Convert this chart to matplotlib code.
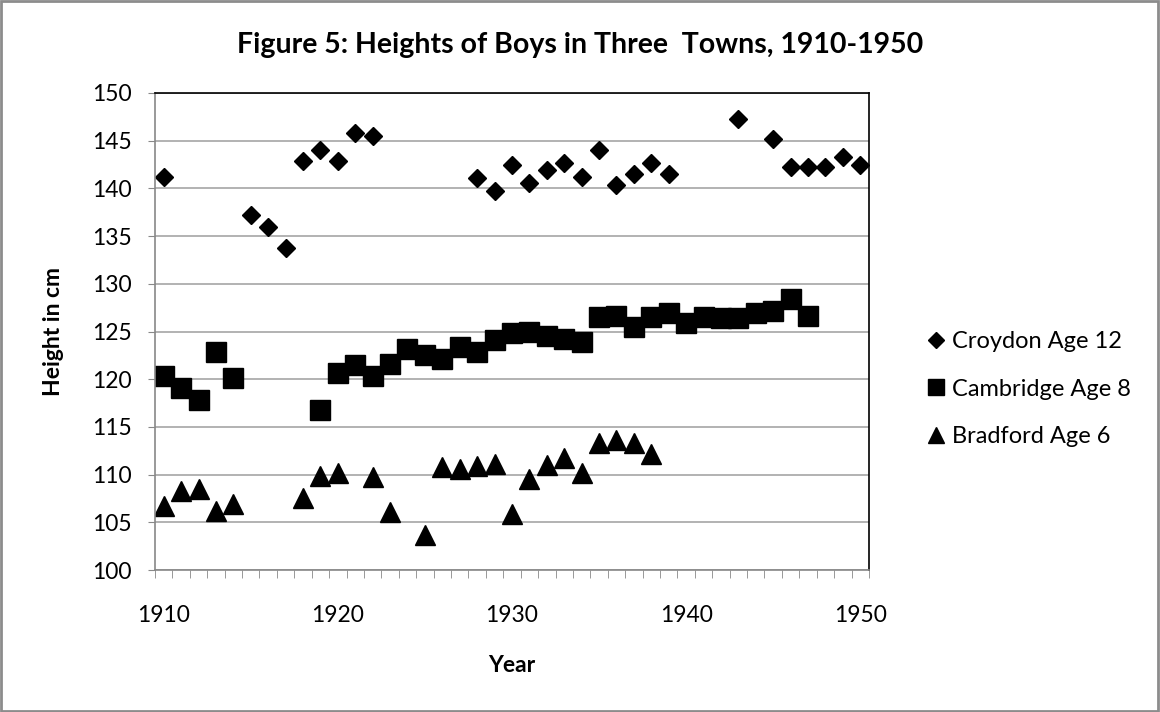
import matplotlib
matplotlib.use("Agg")
import matplotlib.pyplot as plt
from matplotlib.patches import Rectangle
from matplotlib.ticker import MultipleLocator, FixedLocator

plt.rcParams['font.family'] = ['Lato', 'DejaVu Sans']

# Croydon, age 12
croydon_years = [1910, 1915, 1916, 1917, 1918, 1919, 1920, 1921, 1922,
                 1928, 1929, 1930, 1931, 1932, 1933, 1934, 1935, 1936, 1937, 1938, 1939,
                 1943, 1945, 1946, 1947, 1948, 1949, 1950]
croydon_height = [141.2, 137.2, 136.0, 133.8, 142.9, 144.0, 142.9, 145.8, 145.5,
                  141.1, 139.7, 142.5, 140.6, 141.9, 142.7, 141.2, 144.0, 140.4, 141.5, 142.7, 141.5,
                  147.3, 145.2, 142.2, 142.2, 142.2, 143.3, 142.5]

# Cambridge, age 8
cambridge_years = [1910, 1911, 1912, 1913, 1914,
                   1919, 1920, 1921, 1922, 1923, 1924, 1925, 1926, 1927, 1928, 1929,
                   1930, 1931, 1932, 1933, 1934, 1935, 1936, 1937, 1938, 1939,
                   1940, 1941, 1942, 1943, 1944, 1945, 1946, 1947]
cambridge_height = [120.3, 119.1, 117.8, 122.9, 120.1,
                    116.8, 120.6, 121.5, 120.3, 121.6, 123.2, 122.5, 122.1, 123.4, 122.9, 124.1,
                    124.8, 124.9, 124.5, 124.2, 123.9, 126.5, 126.6, 125.5, 126.5, 126.9,
                    125.9, 126.5, 126.4, 126.4, 126.9, 127.1, 128.4, 126.6]

# Bradford, age 6
bradford_years = [1910, 1911, 1912, 1913, 1914, 1918, 1919, 1920, 1922, 1923,
                  1925, 1926, 1927, 1928, 1929, 1930, 1931, 1932, 1933, 1934,
                  1935, 1936, 1937, 1938]
bradford_height = [106.7, 108.3, 108.5, 106.2, 106.9, 107.5, 109.9, 110.2, 109.8, 106.1,
                   103.7, 110.8, 110.6, 110.9, 111.1, 105.9, 109.5, 111.0, 111.7, 110.2,
                   113.3, 113.6, 113.3, 112.2]

fig = plt.figure(figsize=(11.6, 7.12), dpi=100)
ax = fig.add_axes([0.1336, 0.1994, 0.6155, 0.67])

ax.plot(croydon_years, croydon_height, linestyle='none', marker='D',
        markersize=9.2, color='black', label='Croydon Age 12')
ax.plot(cambridge_years, cambridge_height, linestyle='none', marker='s',
        markersize=14.2, color='black', label='Cambridge Age 8')
ax.plot(bradford_years, bradford_height, linestyle='none', marker='^',
        markersize=14, color='black', label='Bradford Age 6')

ax.set_xlim(1909.5, 1950.5)
ax.set_ylim(100, 150)
ax.yaxis.set_major_locator(MultipleLocator(5))
ax.xaxis.set_major_locator(FixedLocator([1910, 1920, 1930, 1940, 1950]))
ax.xaxis.set_minor_locator(FixedLocator([1909.5 + k for k in range(42)]))
ax.tick_params(axis='x', which='major', length=0, pad=25, labelsize=16.5)
ax.tick_params(axis='x', which='minor', length=6, color='#888888', direction='out')
ax.tick_params(axis='y', which='major', length=5, color='#888888', labelsize=16.5, pad=12)

ax.grid(axis='y', color='#a6a6a6', linewidth=1.2)
ax.set_axisbelow(True)
for s in ['top', 'right']:
    ax.spines[s].set_color('black')
    ax.spines[s].set_linewidth(1.2)
for s in ['left', 'bottom']:
    ax.spines[s].set_color('#888888')
    ax.spines[s].set_linewidth(1.2)

fig.text(512 / 1160, 1 - 665 / 712, 'Year', ha='center', va='center',
         fontsize=16.5, fontweight='bold')
fig.text(53 / 1160, 1 - 332 / 712, 'Height in cm', ha='center', va='center',
         rotation=90, fontsize=16.5, fontweight='bold')
fig.text(0.5, 1 - 45 / 712, 'Figure 5: Heights of Boys in Three  Towns, 1910-1950',
         ha='center', va='center', fontsize=20.5, fontweight='bold')

fig.legend(loc='center left', bbox_to_anchor=(924 / 1160, 1 - 389 / 712), frameon=False,
           fontsize=17, borderpad=0, borderaxespad=0, handletextpad=0.2,
           labelspacing=1.12, markerscale=0.85, handlelength=1.0)

fig.patches.append(Rectangle((0.001, 0.001), 0.997, 0.997, transform=fig.transFigure,
                             fill=False, edgecolor='#8c8c8c', linewidth=2))

fig.savefig('out.png', dpi=100)
